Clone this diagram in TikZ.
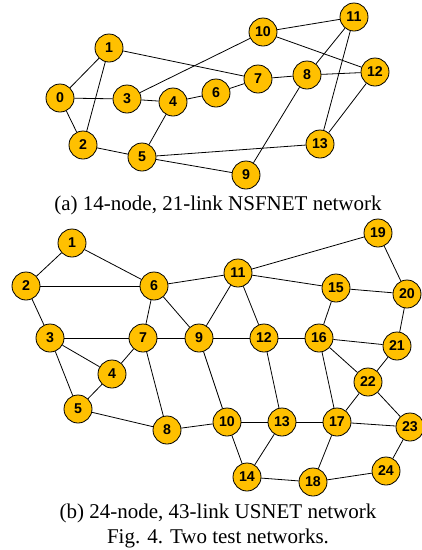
\documentclass[tikz,border=0pt]{standalone}
\usepackage{fontspec}
\setmainfont{Liberation Serif}
\newfontfamily\nodefont{Liberation Sans}
\definecolor{nodegold}{RGB}{255,192,0}
\begin{document}
\begin{tikzpicture}[x=1pt,y=-1pt,
  nd/.style={circle,draw=black,line width=0.8pt,fill=nodegold,minimum size=28pt,inner sep=0pt,font=\nodefont\bfseries\fontsize{14.2}{15}\selectfont},
  lk/.style={draw=black,line width=0.8pt},
  captext/.style={font=\fontsize{21}{25}\selectfont,inner sep=0pt}]
\useasboundingbox (0,0) rectangle (422,550);
% top network
\node[nd] (a0) at (60,98) {0};
\node[nd] (a1) at (109,48) {1};
\node[nd] (a2) at (83,145) {2};
\node[nd] (a3) at (127,99) {3};
\node[nd] (a4) at (173,102) {4};
\node[nd] (a5) at (142,157) {5};
\node[nd] (a6) at (216,93) {6};
\node[nd] (a7) at (258,79) {7};
\node[nd] (a8) at (307,75) {8};
\node[nd] (a9) at (246,175) {9};
\node[nd] (a10) at (263,32) {10};
\node[nd] (a11) at (354,17) {11};
\node[nd] (a12) at (375,72) {12};
\node[nd] (a13) at (320,144) {13};
\foreach \u/\v in {0/1,0/2,0/3,1/2,1/7,3/4,3/10,4/6,4/5,6/7,7/8,2/5,5/13,5/9,8/9,8/11,8/12,10/11,10/12,11/13,12/13}
  \draw[lk] (a\u) -- (a\v);
\node[captext] (capa) at (218,205) {(a) 14-node, 21-link NSFNET network};
% bottom network
\node[nd] (b1) at (72,243) {1};
\node[nd] (b2) at (26,286) {2};
\node[nd] (b3) at (50,338) {3};
\node[nd] (b4) at (112,374) {4};
\node[nd] (b5) at (78,409) {5};
\node[nd] (b6) at (154,286) {6};
\node[nd] (b7) at (143,338) {7};
\node[nd] (b8) at (167,430) {8};
\node[nd] (b9) at (199,338) {9};
\node[nd] (b10) at (227,422) {10};
\node[nd] (b11) at (238,273) {11};
\node[nd] (b12) at (264,338) {12};
\node[nd] (b13) at (282,422) {13};
\node[nd] (b14) at (247,477) {14};
\node[nd] (b15) at (336,288) {15};
\node[nd] (b16) at (319,338) {16};
\node[nd] (b17) at (337,422) {17};
\node[nd] (b18) at (313,482) {18};
\node[nd] (b19) at (378,233) {19};
\node[nd] (b20) at (407,294) {20};
\node[nd] (b21) at (397,346) {21};
\node[nd] (b22) at (368,382) {22};
\node[nd] (b23) at (410,427) {23};
\node[nd] (b24) at (386,471) {24};
\foreach \u/\v in {1/2,1/6,2/6,2/3,3/7,3/4,3/5,4/7,4/5,6/7,6/9,6/11,7/9,7/8,5/8,8/10,9/12,9/10,9/11,11/12,11/15,11/19,12/16,12/13,15/16,15/20,19/20,20/21,16/21,16/22,16/17,21/22,22/17,22/23,10/13,10/14,13/17,13/14,17/23,17/18,14/18,18/24,23/24}
  \draw[lk] (b\u) -- (b\v);
\node[captext] (capb) at (218,513) {(b) 24-node, 43-link USNET network};
\node[captext] (capf) at (218,538) {Fig. 4. Two test networks.};
\end{tikzpicture}
\end{document}
